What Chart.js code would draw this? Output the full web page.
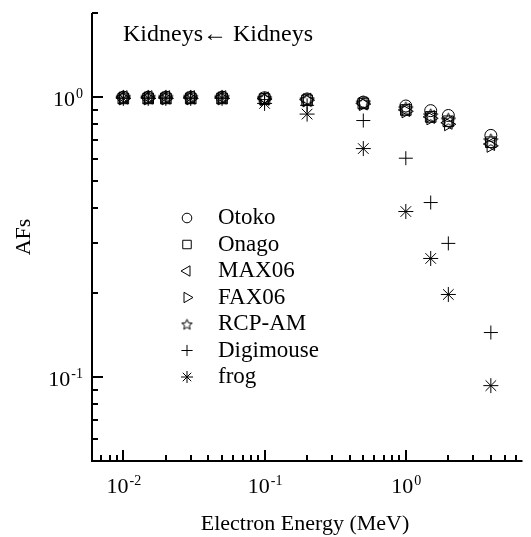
<!DOCTYPE html>
<html>
<head>
<meta charset="utf-8">
<script src="https://cdn.jsdelivr.net/npm/chart.js@4.4.1/dist/chart.umd.min.js"></script>
<style>
  html, body { margin: 0; padding: 0; background: #fff; }
</style>
</head>
<body>
<canvas id="chart" width="531" height="537"></canvas>
<script>
// Electron energies (MeV) and absorbed fractions per phantom
const energies  = [0.01, 0.015, 0.02, 0.03, 0.05, 0.1, 0.2, 0.5, 1, 1.5, 2, 4];
const otoko     = [1.00, 1.00, 1.00, 1.00, 1.00, 0.995, 0.985, 0.96, 0.93, 0.895, 0.86, 0.73];
const onago     = [0.99, 0.99, 0.99, 0.99, 0.99, 0.985, 0.975, 0.95, 0.90, 0.85, 0.82, 0.69];
const max06     = [1.00, 1.00, 1.00, 1.00, 1.00, 0.99, 0.98, 0.95, 0.90, 0.85, 0.81, 0.68];
const fax06     = [0.99, 0.99, 0.99, 0.99, 0.99, 0.985, 0.975, 0.945, 0.89, 0.84, 0.80, 0.67];
const rcpam     = [1.00, 1.00, 1.00, 1.00, 1.00, 0.99, 0.98, 0.955, 0.91, 0.86, 0.83, 0.70];
const digimouse = [1.00, 1.00, 1.00, 1.00, 1.00, 0.98, 0.935, 0.825, 0.605, 0.42, 0.30, 0.144];
const frog      = [0.99, 0.99, 0.99, 0.99, 0.99, 0.95, 0.87, 0.655, 0.39, 0.265, 0.197, 0.093];

const seriesNames = ['Otoko', 'Onago', 'MAX06', 'FAX06', 'RCP-AM', 'Digimouse', 'frog'];

// tick labels: base + exponent
const xMajorTicks = [0.01, 0.1, 1];
const xTickLabels = [['10', '-2'], ['10', '-1'], ['10', '0']];
const yMajorTicks = [0.1, 1];
const yTickLabels = [['10', '-1'], ['10', '0']];

const FONT = '"Liberation Serif", "Times New Roman", serif';

// outlined five point star used for RCP-AM
function makeStar(size) {
    const c = document.createElement('canvas');
    c.width = c.height = size;
    const g = c.getContext('2d');
    const cx = size / 2, cy = size / 2 + 0.8, R = size / 2 - 1, r = R * 0.45;
    g.beginPath();
    for (let i = 0; i < 10; i++) {
        const ang = -Math.PI / 2 + i * Math.PI / 5;
        const rad = i % 2 ? r : R;
        g.lineTo(cx + rad * Math.cos(ang), cy + rad * Math.sin(ang));
    }
    g.closePath();
    g.strokeStyle = '#000';
    g.lineWidth = 1;
    g.stroke();
    return c;
}
const legendStar = makeStar(13);

const markers = [
    { pointStyle: 'circle', rotation: 0, radius: 6 },
    { pointStyle: 'rect', rotation: 0, radius: 7.5 },
    { pointStyle: 'triangle', rotation: -90, radius: 7.5 },
    { pointStyle: 'triangle', rotation: 90, radius: 7.5 },
    { pointStyle: makeStar(17), rotation: 0, radius: 7 },
    { pointStyle: 'cross', rotation: 0, radius: 7 },
    { pointStyle: 'star', rotation: 0, radius: 7.5 }
];

const allSeries = [otoko, onago, max06, fax06, rcpam, digimouse, frog];

const datasets = allSeries.map((vals, i) => ({
    label: seriesNames[i],
    data: energies.map((e, j) => ({ x: e, y: vals[j] })),
    showLine: false,
    borderColor: '#000',
    backgroundColor: 'rgba(0,0,0,0)',
    pointBorderWidth: 1,
    pointStyle: markers[i].pointStyle,
    rotation: markers[i].rotation,
    pointRadius: markers[i].radius,
    pointHoverRadius: markers[i].radius,
    clip: false
}));

function mantissaOf(v) {
    const e = Math.floor(Math.log10(v) + 1e-9);
    return v / Math.pow(10, e);
}

function tickValues(min, max) {
    const out = [];
    for (let e = Math.floor(Math.log10(min)); e <= Math.ceil(Math.log10(max)); e++) {
        for (let m = 1; m <= 9; m++) {
            const v = m * Math.pow(10, e);
            if (v >= min * 0.9999 && v <= max * 1.0001) out.push(v);
        }
    }
    return out;
}

function drawPowerLabel(ctx, base, exp, x, y, align) {
    ctx.font = '22px ' + FONT;
    const wb = ctx.measureText(base).width;
    ctx.font = '14px ' + FONT;
    const we = ctx.measureText(exp).width;
    let left = x;
    if (align === 'right') left = x - wb - we;
    if (align === 'center') left = x - (wb + we) / 2;
    ctx.textAlign = 'left';
    ctx.textBaseline = 'alphabetic';
    ctx.font = '22px ' + FONT;
    ctx.fillText(base, left, y);
    ctx.font = '14px ' + FONT;
    ctx.fillText(exp, left + wb + 1, y - 8);
}

const axesPlugin = {
    id: 'axesPlugin',
    afterDraw(chart) {
        const { ctx, chartArea: a, scales: { x, y } } = chart;
        ctx.save();
        ctx.strokeStyle = '#000';
        ctx.fillStyle = '#000';
        ctx.lineWidth = 2;

        // axis lines (left and bottom only)
        ctx.beginPath();
        ctx.moveTo(a.left, a.top);
        ctx.lineTo(a.left, a.bottom);
        ctx.lineTo(a.right, a.bottom);
        ctx.stroke();

        // inward ticks
        ctx.beginPath();
        tickValues(x.min, x.max).forEach(v => {
            const px = Math.round(x.getPixelForValue(v));
            const len = Math.abs(mantissaOf(v) - 1) < 1e-6 ? 11 : 6;
            ctx.moveTo(px, a.bottom);
            ctx.lineTo(px, a.bottom - len);
        });
        tickValues(y.min, y.max).forEach(v => {
            const py = Math.round(y.getPixelForValue(v));
            const len = Math.abs(mantissaOf(v) - 1) < 1e-6 ? 11 : 6;
            ctx.moveTo(a.left, py);
            ctx.lineTo(a.left + len, py);
        });
        ctx.stroke();

        // tick labels
        xMajorTicks.forEach((v, i) => {
            drawPowerLabel(ctx, xTickLabels[i][0], xTickLabels[i][1], x.getPixelForValue(v), 493, 'center');
        });
        yMajorTicks.forEach((v, i) => {
            drawPowerLabel(ctx, yTickLabels[i][0], yTickLabels[i][1], 82, y.getPixelForValue(v) + 9, 'right');
        });

        // axis titles
        ctx.font = '22px ' + FONT;
        ctx.textAlign = 'center';
        ctx.textBaseline = 'alphabetic';
        ctx.fillText('Electron Energy (MeV)', 305, 530);
        ctx.save();
        ctx.translate(24, 237);
        ctx.rotate(-Math.PI / 2);
        ctx.textBaseline = 'middle';
        ctx.fillText('AFs', 0, 0);
        ctx.restore();

        // panel title
        ctx.textAlign = 'left';
        ctx.font = '24px ' + FONT;
        ctx.fillText('Kidneys\u2190 Kidneys', 123, 41);

        // legend inside plot
        ctx.textBaseline = 'middle';
        chart.data.datasets.forEach((ds, i) => {
            const ly = 218 + i * 26.5;
            ctx.lineWidth = 1;
            ctx.strokeStyle = '#000';
            ctx.fillStyle = 'rgba(0,0,0,0)';
            Chart.helpers.drawPoint(ctx, {
                pointStyle: typeof ds.pointStyle === 'string' ? ds.pointStyle : legendStar,
                rotation: ds.rotation,
                radius: ds.pointRadius * 0.8,
                borderWidth: 1
            }, 187, ly);
            ctx.fillStyle = '#000';
            ctx.font = '23px ' + FONT;
            ctx.fillText(ds.label, 218, ly);
        });
        ctx.restore();
    }
};

new Chart(document.getElementById('chart'), {
    type: 'scatter',
    data: { datasets },
    options: {
        responsive: false,
        animation: false,
        layout: { padding: { left: 92, right: 0, top: 13, bottom: 76 } },
        plugins: { legend: { display: false }, tooltip: { enabled: false } },
        scales: {
            x: { type: 'logarithmic', min: 0.006, max: 6.7, display: false },
            y: { type: 'logarithmic', min: 0.05, max: 2, display: false }
        }
    },
    plugins: [axesPlugin]
});
</script>
</body>
</html>
